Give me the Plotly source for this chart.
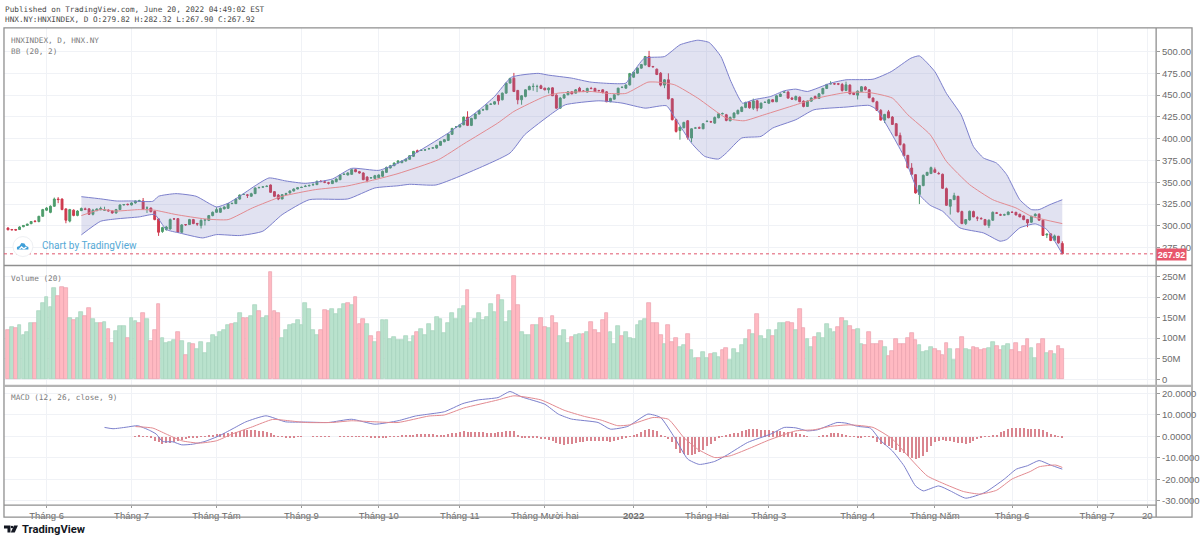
import plotly.graph_objects as go

# ---------- data (bar index = trading day number) ----------
opens = [
297.5,295.8,295.8,295.8,299,300.5,302.5,305.5,305,311,
318,315.5,322.5,330.8,330.8,319.5,305.5,318,312,317.5,
319.5,319.5,313.3,317.4,318.5,318,318,317,314.8,318.7,
324,324.8,324,326.3,328,328.6,320.4,320.5,316.7,308,
293.5,295.8,296.5,308,308.3,292.7,301.5,301.5,307.2,302.6,
300.3,306.5,306.4,311.8,315.6,315.6,319.5,320.2,325.5,325.5,
330.8,336,335.5,334,337,343.8,344.5,345.3,346.9,339.3,
335.4,330.8,336,337.8,340,342.3,344,345.2,346,347,
347.3,351.1,350.4,349.4,348.5,350.7,353,359,358.4,359.1,
364.5,362.2,360.7,356,355,354.5,355.3,356.9,361.4,366.4,
369.1,372.5,372.5,374.4,376.4,379.8,386.2,386.5,387,388.5,
389.3,389.3,392.4,396.5,398.1,405,413.3,413.4,416,424.8,
415.3,422.9,428.3,433,433.2,439.5,439.7,449.6,444.7,452.3,
463.8,469.5,455.4,444.7,448.5,456.1,459.9,459.9,460.7,458,
456.1,458.4,450,435.1,446.6,450.4,453.8,452.3,458,454.6,
453.5,457.7,457.7,455.4,456.1,453.8,442.4,445.4,450.4,458.8,
458,461.8,470.6,475.2,481,484.7,494.3,482.9,479.8,475.2,
461.5,467.6,445.8,421.8,409.4,412.6,420.6,400.8,412.2,412.6,
411.4,419.7,419.5,417.9,424,428.7,427.5,420.6,424,428.6,
431.3,435.9,442,435.1,443.5,435.1,441.6,440.8,444.7,442.4,
448.5,453.4,453.5,446.6,444.7,447.7,443.1,437,443.1,448.5,
446.2,451.5,457.7,463,463,463,462.2,455.4,461.5,452.3,
450,454.2,459.2,456.1,446.6,442.4,432.5,421.4,430.9,424.8,
417.2,403.8,393.5,380.9,366.4,358.8,336,346.2,358,360,
364.5,360.1,359.2,342.7,322.5,330.1,333.9,316.4,302.6,306.8,
316.4,309.1,308.4,307.2,300.3,306.5,314.9,312.7,312.4,312.8,
315.6,315.6,313.3,311.4,307.2,304.2,311.4,313.3,306.5,289.6,
290.8,283.5,288.1,279.82]
closes = [
295.5,295.5,295.2,298.7,300.5,302,305,305,311,318.7,
320.5,322.5,330.8,330.2,318.7,306.5,318.7,312,317,320,
319,313.3,318,319.4,320,318.3,317.2,314.8,318.7,324,
324.5,324.4,326.3,328.6,329,319.4,320.6,316.3,307.2,292.7,
298,298.7,307.2,307.9,292.7,301.1,301.3,307.2,302.6,302.2,
306.4,307,311.8,315.6,318.7,320.2,321.7,325.5,325.8,330.8,
335.4,336.2,335.2,336.9,343.5,344,344.7,345.4,338.5,333.9,
330.8,335.8,337,340,342.3,343.8,344.2,345.4,346.2,347.3,
351.1,350.9,350.2,349,351.8,353.8,358.4,359.3,360.7,364.5,
362.2,360.7,353,352.3,355.3,357.6,358.4,362.6,367.1,369,
372.1,374.5,374.4,376.4,380.5,385.5,385.1,386.7,387.2,388.6,
389.5,392.4,396.9,398.9,405.3,411.8,413.5,416,424.8,415.3,
423.3,428.3,432.5,433.3,438.6,439.7,442.4,443.5,452.3,463.8,
469.1,454.2,444.7,449.3,456.1,459.9,460.1,460,457.7,456.1,
458,449.3,435.1,446.6,450.4,453.8,451.5,456.1,454.2,454.5,
457.7,457.5,454.2,455.2,453,442.4,446.2,450.4,458,459,
461.5,474.8,476.4,481,485.1,494.3,482.9,482.5,473.7,461.5,
467.6,445.8,421.8,408.4,413.3,418.7,401.5,411.4,412.3,412.2,
417.2,420,419.3,424.4,428.6,428.8,421,424.4,429.4,432.5,
436.3,441.6,435.5,443.5,435.1,440.8,441.7,444.7,442.4,449.3,
451.2,453.5,446.6,445.4,448.5,442.4,437,443.1,446.6,446.2,
451.5,457.7,462.2,463.1,462.9,462.7,455.4,461.8,451.5,450.8,
454.6,459.6,456.1,447,442.4,432.5,421.4,427.9,424,416.4,
403.4,393.1,380.5,366.8,359.2,337.8,346.2,358,361.4,366.8,
361.4,359.9,343.1,323.6,330.1,334.7,316,302.6,307.2,316.8,
310.3,309,308.2,301.1,306.5,315.6,314.6,312.4,312.7,315.9,
315.4,312.6,310.3,307.2,303.4,311,313.3,306.5,289,290.4,
283.2,288.5,280.5,267.92]
highs = [
298.5,296.5,296.5,299.5,301,302.5,305.5,306.5,311.5,319.5,
321.5,323.5,332.5,333,331.5,320,319.5,319,318,321,
321,320.5,319.5,320,322,322,319,318,319.5,324.8,
325,325.5,327,329,330,332,322.5,321,317.5,309,
299,300,308.5,309,309,302,302,308,308,303.5,
307.5,308,312.5,316.5,321.5,321,322.5,326,326.5,331.5,
336,337,336.5,338,344,345,345.5,346.5,347.5,340,
336.5,336.5,338,341,343,344.5,345,347,347.5,349,
352,352.5,352,350.5,352.5,354.5,359,360,361.5,365,
365.5,363,361.5,357,356,358.5,359,363.5,368,370,
372.8,375.5,375.2,377,381,386,387.5,387.5,388,389.5,
390.5,393,397.5,399.5,406,412.5,414.5,416.5,425.5,431.5,
424,429,433,434.5,439.5,440.5,443,450.5,453,464.5,
470,475.5,456,450,456.5,461,463.5,462,462,458.5,
459,459,451,448,451.5,454.5,454.5,457,459.5,455.5,
458.5,459.5,458.5,456,456.8,454.5,447,451,458.5,460,
462.5,475.5,477,481.8,485.8,495,500.8,483.5,480.5,476.5,
468.5,475,446.5,423,414,419.5,421.5,412,413.5,414,
418,421,420.5,425.5,429.5,430,428.5,425.5,430.5,433.5,
437,442.5,443,446,444.5,441.5,443,445.5,445.5,450,
452,454.5,454.5,448,449.5,448.5,444,444,447.5,449.5,
452.5,458.5,463,466,464,464,464,465.5,462.5,453,
455.5,460.5,460.5,457,447.5,443.5,434,428.5,433,426,
418,407,395,381.5,372,359.5,347,359,362,368,
367,362,360,344,330.5,338,334.5,317.5,304,317.5,
317.5,311,310,308,307.5,316.5,316,314,314,316.5,
317,316,314,312,308,311.5,314.5,314.5,307,291.5,
291.5,290,288.5,282.32]
lows = [
295,295,294.8,295.3,298.5,300,302,304,304,310.5,
317,314.5,322,326,318,303,304,311,311,317,
318,312.5,312,317,318,317.5,316.5,314,314,318,
323.5,323.5,323.5,325.5,327.5,318.5,314.8,315.5,306.5,288.5,
292,294.5,295.5,307.5,292,292,300,301,302,300,
297,300.5,305.5,311,315,315,319,319.5,325,330,
330,335.5,332,333.5,336.5,343,344,344.5,338,333,
329.5,331,335.5,337,339.5,342,343.5,344.5,345.5,346.5,
347,350,349,347.5,348,350,352.5,358.5,358,359,
361.5,360,352.5,350,354.5,354,355,356,361,366,
368.5,371.5,372,374,376,379,384.5,386,386.5,387.5,
388.5,388.5,392,396,397.5,404.5,412.5,413,415.5,414.5,
414.5,422.5,428,432,433,439,439,439,444,452,
463.5,453.5,439.5,439,447.5,456,455,453.5,457,455.5,
452,449,434.5,434.5,446,450,451,452,453.5,453.5,
453,457,454,454,452,442,442,445,450,458,
457.5,461,470,474.5,480.5,484,482,482,473,460,
458,445,421,407,398.9,412,399,396,411.5,411.5,
411,419,418.5,417,423.5,428,420,420,423.5,428,
430.5,435,434.5,433,431.5,434.5,441,440,442,442,
448,453,446,444.5,444,442,436,436.5,442.5,445.5,
445.5,451,457,462.5,462,461.5,454,454.5,451,450,
445,453.5,455.5,446.5,442,432,421,418,423.5,416,
403,392.5,380,366,358.5,337,325,345.5,357.5,360,
361,359,342.5,323,313,330,315.5,302,301,306,
310,305.5,307.5,300.5,297.5,306,314,311.5,312,312.5,
315,312,310,306.5,298.5,303.5,311,306,288.5,286,
282.5,283,279.5,267.9]

volumes_m = [
119,128,125,133,107,116,136,138,167,186,
201,176,223,202,224,221,150,143,150,164,
153,174,146,136,137,140,123,89,118,129,
129,100,150,141,138,160,146,94,119,184,
100,88,90,96,116,92,60,88,87,73,
91,63,88,107,104,114,119,133,135,137,
162,148,150,153,181,167,148,153,260,167,
162,101,119,133,135,145,133,186,170,119,
107,121,169,166,170,159,170,184,186,181,
200,135,146,135,106,91,114,143,145,99,
102,95,95,105,91,106,114,122,107,135,
118,152,146,112,136,162,146,170,179,217,
136,146,160,144,151,182,164,204,192,140,
167,251,181,116,108,107,133,133,150,127,
124,155,138,105,121,88,104,108,109,111,
116,140,121,112,143,162,114,85,129,105,
116,101,97,132,141,146,185,138,136,107,
87,131,91,100,78,83,111,70,52,52,
67,52,61,65,55,70,75,48,73,63,
83,98,119,109,159,105,99,119,105,119,
138,138,140,138,119,170,125,97,79,102,
112,100,135,123,116,128,150,142,130,121,
123,85,83,115,87,85,92,79,57,69,
97,87,87,100,113,96,83,66,69,79,
74,69,60,89,74,47,73,102,74,70,
78,75,70,74,77,91,81,70,82,85,
70,88,66,80,99,77,51,87,99,63,
69,61,80,74]
volume_dirs = ("rgrggggrgg" "gggrrrgrgg" "rrggrgrrgg" "grggrrgrrr" "ggggrgrgrg"
               "ggggggggrg" "grrggrggrr" "rggggggggg" "grrrggggrg" "rrrgrgrggg"
               "ggggggrggg" "gggggggggr" "gggggggrgg" "grrgggrgrr" "grrgggrggr"
               "grrrrrgggr" "ggggggrrrr" "grrrggrggr" "ggrggrrggg" "ggrgrgggrg"
               "ggrrgrrggr" "gggggrrgrr" "ggrrrrrgrr" "rrrrrrgggg" "rrrrggrrgg"
               "rrrrggrrgg" "rrrrrggrrg" "rgrr")

bb_upper_x = [19,24,28,32,37.5,39,43.5,48.7,54,57,60,64,67.6,72,77,84,89,96,101,114,122,126,130.4,137.3,139.9,146,151,160,161.4,164.8,170,174,178.6,181.6,184.6,187.2,190.2,193,197.5,201,204,207,213,217,224,228.7,233.8,236,240,243,246.8,250,252.6,256,258.6,262,265,267,269.8,273]
bb_upper = [333.5,331,328.6,328.6,328.2,334,337,334,321.7,326,334,346,355,351.5,348.8,353.8,366,363.7,372,406.5,433,448.5,470.6,475,473,469.5,464.9,463.8,473,492.4,494.3,507.7,513,510.3,494.3,465.7,440.9,444.7,448.5,455,456.9,454.2,463.8,467.6,468.3,477,492.4,495,477,452,427.5,391,377.9,372,358.8,330,318.7,318.7,324.4,330]
bb_basis_x = [19,24,28,34,38,43.5,51,57,63.3,71,79.6,87.4,95,101,111.5,118,126.8,131,139,142.5,151,155.4,160,165.7,168.3,172.6,178.6,186,190.6,195.8,204,209.6,217,223,229,233,238.8,243,249,255,261,265,273]
bb_basis = [311.8,318.7,317,318.7,318,313,308,307.2,320.6,333.9,341.6,345.4,353,360,376,394,417.9,431.3,448.5,452.3,454.2,452,452,464.9,464.9,461.9,446.6,423.7,420.6,427.5,438.9,446.6,453,453,446.6,427.5,404.6,374,347.3,330,320.6,311,302.6]
bb_lower_x = [19,24,28,34,38,41,44.4,50.4,54,60,66,71,78,88,95,101,104,110.8,119,130,133.8,141,144.3,153,159,165,170.5,173,177,180.4,184,186,190,195,198,204,208.7,217,223,225,232,236,238.8,242,246.5,252.6,256.9,258.6,262,266,269,273]
bb_lower = [289.7,305.3,308,310.3,313,295.8,291.9,286.2,290,288.9,293.9,312.9,330,330.9,343.5,346,347.7,346.9,360.7,383.6,404.6,429.4,438.9,443.5,440.9,435.1,437.8,421.8,395,379.8,376.7,383.6,400.8,402.7,412.2,421.8,433.2,436.3,438.2,433.2,379.8,335.9,323.6,316.8,297.7,291.9,282.4,284.3,297.7,302.3,295.8,268]

macd_x = [25,27.2,30.6,33.6,36.6,38.4,40,42.7,45,47.8,51,54.7,58,61.6,66.8,71.9,77,83,89,95,101,105.5,109,113,117.8,121.8,126.9,130,133,139,142.5,145.9,152.8,156,160.5,165.7,169,172.6,176,179,183,186.3,191.5,197.5,201,204,207,209.6,214.7,217,220,223.3,226,229,232,235,237,241,244,248,253,258,261.1,264,267,270,273]
macd_line = [4.2,3.6,4.3,5,2.9,1.1,-2.3,-2.5,-3.9,-3.6,-2.3,.3,3.4,6.8,9.6,6.8,6.7,6.5,8,5.7,7.3,9.5,10.4,11.5,15.3,17,18.1,20.9,18.4,15,10.4,8.1,6.5,3.4,4.7,10.4,8.8,-.5,-10.5,-13,-11.6,-8.5,-2.8,1.1,4.2,4,2.6,3.1,6.5,6.2,4.7,3.9,-2,-6.7,-13.6,-23,-25.3,-23,-25.3,-28.7,-26,-19.8,-15.2,-13.6,-11.2,-13.3,-15.2]
signal_x = [33,37.5,41,45,49.5,54,58,63.3,68.5,72.8,77,84,89,95,101,109,113,118,126.9,131,138,144,149.3,153.6,157.9,161,167,171,175,178.6,183,187,191.5,197,204,208.7,213,218,224,229,233,238,242,247.4,251.7,256,260,264.7,267,271.3,273]
signal_line = [4.6,3.9,1.1,-2,-3.1,-2,1.1,4.5,7.9,7.3,6.5,6.5,7.3,6.8,6.5,9.5,10,13.2,17,18.9,17,12.2,9.3,7.6,5,5.4,8.8,8,-.5,-5.9,-9.8,-9,-5.9,-1.7,2.6,3.1,4.7,5.4,4.2,-1.2,-9,-18.3,-21.7,-25.6,-26.8,-25,-19.8,-16.3,-14.1,-13.3,-14.4]
hist_start = 33
macd_hist = [
.3,.4,.3,.1,-.2,-2,-2.5,-3.2,-3,-3,-2.6,-2,-1.6,-1.2,-.8,-.5,-.2,.1,.2,.5,
.8,1.2,1.4,1.6,1.9,2,2.3,2.6,2.9,3,3.1,2.9,2.8,2.7,2.4,1.7,.9,.2,-.1,-.2,
-.2,-.2,-.1,-.1,0,0,.1,.1,.1,.1,-.1,0,0,.1,.1,.2,.3,.3,.3,.1,
-.1,-.2,-.3,-.3,-.3,-.2,-.1,.1,.2,.4,.5,.7,1,1.2,1.3,1.3,1.3,1.1,1,.9,
.9,1.1,1.6,1.9,2.1,2.5,2.4,2.2,2,2,2,1.9,1.8,1.6,2,2.4,2.8,2.8,2.6,.8,
-.2,-.4,-.6,-.7,-.8,-1,-1.3,-1.6,-2,-3,-3.6,-3.8,-3.4,-3.4,-3.1,-2.7,-2.4,-2.1,-1.9,-1.8,
-1.9,-2.1,-2.2,-2.3,-2.1,-1.5,-.9,-.5,-.1,.7,1.3,2.2,3,3.4,3.1,2.6,.9,.2,-1,-2.6,
-5.5,-7.5,-8.2,-8.4,-8.7,-8,-7,-6,-4.5,-3.2,-1.8,-.7,.2,.8,1.2,1.5,1.8,2.5,3.1,3.5,
3.5,3.5,3.3,3.1,2.9,2.7,2.6,2.5,2.4,2.2,2.2,1.8,1.3,.6,.1,0,0,.2,.5,1,
1.6,1.8,1.7,1.3,.7,.2,-.1,-.2,-.2,-.1,-.1,-.8,-2.3,-3.5,-4,-4.5,-5.2,-6,-7,-7.8,
-9.2,-9.8,-10.2,-10,-9,-7.2,-4.5,-2.6,-1.8,-1.5,-1.8,-2.2,-2.4,-2.8,-3,-3.2,-2.8,-2,-1.3,-.5,
-.1,.2,.4,1,2,2.8,3.5,3.9,4.1,4.2,4,3.8,3.5,3.4,3.4,3,2.3,1.3,.6,.3,-.6]

x_ticks = [10,32,54,76,96,117,139,162,181,197,220,240,260,282,295]
x_labels = ["Tháng 6","Tháng 7","Tháng Tám","Tháng 9","Tháng 10","Tháng 11","Tháng Mười hai",
            "<b>2022</b>","Tháng Hai","Tháng 3","Tháng 4","Tháng Năm","Tháng 6","Tháng 7","20"]
price_ticks = [275,300,325,350,375,400,425,450,475,500]
volume_ticks = [0,50,100,150,200,250]
volume_labels = ["0","50M","100M","150M","200M","250M"]
macd_ticks = [-30,-20,-10,0,10,20]
macd_labels = ["-30.0000","-20.0000","-10.0000","0.0000","10.0000","20.0000"]
last_close = 267.92

# ---------- layout helpers (page pixels) ----------
W, H = 1200, 542
def fx(p): return p / W
def fy(p): return 1 - p / H
def path(points):
    return "M " + " L ".join(f"{fx(a):.5f} {fy(b):.5f}" for a, b in points) + " Z"

MONO = "DejaVu Sans Mono, monospace"
SANS = "Liberation Sans, Arial, sans-serif"
GRID = "#f0f2f6"
FRAME = "#8f8f8f"
BAND = "#7b7fcb"
BASIS = "#e28a90"
UP = "#4e9d6c"
DOWN = "#cf3a4e"
VOL_UP = "#b9e2cd"
VOL_UP_EDGE = "#a5d3bb"
VOL_DOWN = "#ffb9c2"
VOL_DOWN_EDGE = "#e9a1ad"
HIST = "#d9858f"

bars = list(range(len(closes)))
fig = go.Figure()

# Bollinger fill + lines
fig.add_trace(go.Scatter(x=bb_upper_x, y=bb_upper, mode="lines", yaxis="y", xaxis="x",
                         line=dict(color=BAND, width=1, shape="spline", smoothing=0.5)))
fig.add_trace(go.Scatter(x=bb_lower_x, y=bb_lower, mode="lines", yaxis="y", xaxis="x",
                         line=dict(color=BAND, width=1, shape="spline", smoothing=0.5),
                         fill="tonexty", fillcolor="rgba(120,123,190,0.22)"))
fig.add_trace(go.Scatter(x=bb_basis_x, y=bb_basis, mode="lines", yaxis="y", xaxis="x",
                         line=dict(color=BASIS, width=1, shape="spline", smoothing=0.5)))
# Candles
fig.add_trace(go.Candlestick(x=bars, open=opens, high=highs, low=lows, close=closes,
                             xaxis="x", yaxis="y", whiskerwidth=0,
                             increasing=dict(line=dict(color=UP, width=1), fillcolor=UP),
                             decreasing=dict(line=dict(color=DOWN, width=1), fillcolor=DOWN)))
# Volume
fig.add_trace(go.Bar(x=bars, y=volumes_m, xaxis="x2", yaxis="y2", width=0.98,
                     marker=dict(color=[VOL_UP if d == "g" else VOL_DOWN for d in volume_dirs],
                                 line=dict(color=[VOL_UP_EDGE if d == "g" else VOL_DOWN_EDGE for d in volume_dirs],
                                           width=0.7))))
# MACD
fig.add_trace(go.Bar(x=list(range(hist_start, hist_start + len(macd_hist))), y=macd_hist,
                     xaxis="x3", yaxis="y3", width=0.26, marker=dict(color=HIST, line=dict(width=0))))
fig.add_trace(go.Scatter(x=macd_x, y=macd_line, mode="lines", xaxis="x3", yaxis="y3",
                         line=dict(color=BAND, width=1, shape="spline", smoothing=0.5)))
fig.add_trace(go.Scatter(x=signal_x, y=signal_line, mode="lines", xaxis="x3", yaxis="y3",
                         line=dict(color=BASIS, width=1, shape="spline", smoothing=0.5)))

x_range = [-1.03, 297.3]
x_dom = [fx(4), fx(1160)]
tick_font = dict(family=SANS, size=9.5, color="#6b6b6b")
def x_axis(anchor, labels):
    return dict(domain=x_dom, range=x_range, anchor=anchor, tickmode="array", tickvals=x_ticks,
                ticktext=x_labels, showticklabels=labels, showgrid=True, gridcolor=GRID, gridwidth=1,
                zeroline=False, showline=False, ticks="outside" if labels else "", ticklen=2,
                tickcolor="#9a9a9a", tickfont=tick_font, rangeslider=dict(visible=False), fixedrange=True)
def y_axis(anchor, top, bottom, rng, vals, text):
    return dict(domain=[fy(bottom), fy(top)], range=rng, anchor=anchor, side="right", tickmode="array",
                tickvals=vals, ticktext=text, showgrid=True, gridcolor=GRID, gridwidth=1, zeroline=False,
                showline=False, ticks="outside", ticklen=3, tickcolor="#9a9a9a", tickfont=tick_font,
                fixedrange=True)

frame = dict(color=FRAME, width=1.3)
shapes = [
    # outer frame, axis column and pane separators
    dict(type="rect", xref="paper", yref="paper", x0=fx(4), x1=fx(1196), y0=fy(518), y1=fy(28), line=frame),
    dict(type="line", xref="paper", yref="paper", x0=fx(1160), x1=fx(1160), y0=fy(518), y1=fy(28), line=frame),
    dict(type="line", xref="paper", yref="paper", x0=fx(4), x1=fx(1196), y0=fy(266), y1=fy(266), line=frame),
    dict(type="line", xref="paper", yref="paper", x0=fx(4), x1=fx(1196), y0=fy(386.5), y1=fy(386.5),
         line=dict(color="#b4b4b4", width=2.2)),
    dict(type="line", xref="paper", yref="paper", x0=fx(4), x1=fx(1160), y0=fy(506), y1=fy(506), line=frame),
    # last-price dotted line
    dict(type="line", xref="x", yref="y", x0=x_range[0], x1=x_range[1], y0=last_close, y1=last_close,
         line=dict(color="#e0566c", width=1, dash="dot")),
    # "Chart by TradingView" badge
    dict(type="circle", xref="paper", yref="paper", x0=fx(13), x1=fx(33), y0=fy(257), y1=fy(237),
         fillcolor="white", line=dict(color="#eef0f3", width=1)),
    dict(type="path", xref="paper", yref="paper", fillcolor="#3f9fd8", line=dict(width=0),
         path=path([(17, 250), (17, 247.5), (19.5, 246.5), (21.5, 243.5), (24.5, 244), (26, 246.5), (28.5, 247.5), (28.5, 250)])),
    dict(type="path", xref="paper", yref="paper", fillcolor="white", line=dict(width=0),
         path=path([(19, 249.5), (21.5, 246.5), (24, 248.5), (26, 247), (27, 248), (24, 250), (21.5, 248.5), (20, 250)])),
    # TradingView logo mark
    dict(type="path", xref="paper", yref="paper", fillcolor="#131722", line=dict(width=0),
         path=path([(4, 526.5), (10.5, 526.5), (10.5, 533.5), (7.5, 533.5), (7.5, 529.5), (4, 529.5)])),
    dict(type="circle", xref="paper", yref="paper", x0=fx(10.8), x1=fx(13.2), y0=fy(529.2), y1=fy(526.8),
         fillcolor="#131722", line=dict(width=0)),
    dict(type="path", xref="paper", yref="paper", fillcolor="#131722", line=dict(width=0),
         path=path([(14, 526.5), (18, 526.5), (14.8, 533.5), (10.8, 533.5)])),
]

def label(px, py, text, size=7.7, color="#7b7b7b", family=MONO, anchor="left", **kw):
    return dict(xref="paper", yref="paper", x=fx(px), y=fy(py), text=text, showarrow=False,
                xanchor=anchor, yanchor="middle", font=dict(family=family, size=size, color=color),
                borderpad=0, **kw)

annotations = [
    label(4, 9.3, "Published on TradingView.com, June 20, 2022 04:49:02 EST", color="#4a4a4a"),
    label(4, 20, "HNX.NY:HNXINDEX, D O:279.82 H:282.32 L:267.90 C:267.92", color="#4a4a4a"),
    label(10, 40.7, "HNXINDEX, D, HNX.NY"),
    label(10, 51.5, "BB (20, 2)"),
    label(10, 278.7, "Volume (20)"),
    label(10, 398.3, "MACD (12, 26, close, 9)"),
    label(41, 246, "Chart by TradingView", size=10, color="#55a9d6", family="Roboto, sans-serif"),
    label(21, 530, "<b>TradingView</b>", size=11.2, color="#131722", family="Roboto, sans-serif"),
    label(1175.5, 254.5, f"<b>{last_close:.2f}</b>", size=9, color="white", family=SANS, anchor="center",
          bgcolor="#e8566c", width=29, height=11),
]

fig.update_layout(
    width=W, height=H, margin=dict(l=0, r=0, t=0, b=0), autosize=False,
    paper_bgcolor="white", plot_bgcolor="white", showlegend=False, barmode="overlay", bargap=0,
    xaxis=x_axis("y", False), xaxis2=x_axis("y2", False), xaxis3=x_axis("y3", True),
    yaxis=y_axis("x", 28, 265.5, [255.1, 527.1], price_ticks, [f"{v:.2f}" for v in price_ticks]),
    yaxis2=y_axis("x2", 266.5, 386, [-14.6, 275.5], volume_ticks, volume_labels),
    yaxis3=y_axis("x3", 387.5, 506, [-31.9, 23.1], macd_ticks, macd_labels),
    shapes=shapes, annotations=annotations, hovermode=False,
)

fig.write_html("out.html", config={"displayModeBar": False},
               post_script="document.body.style.margin='0';document.body.style.overflow='hidden';")
